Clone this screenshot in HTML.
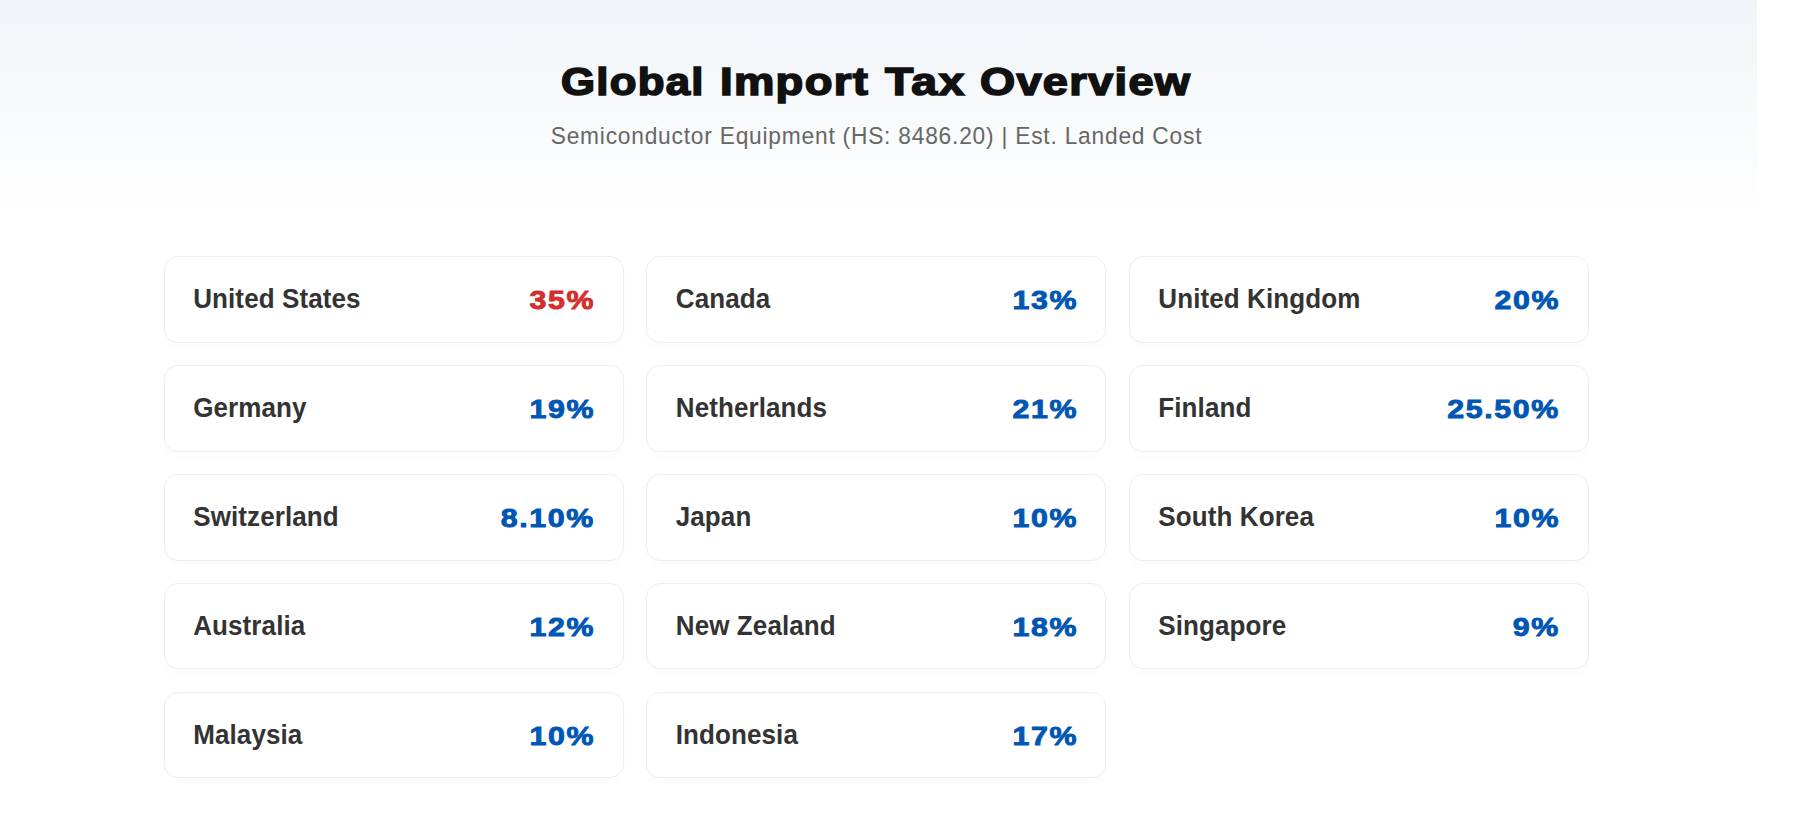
<!DOCTYPE html>
<html lang="en">
<head>
<meta charset="utf-8">
<title>Global Import Tax Overview</title>
<style>
  html, body { margin: 0; padding: 0; background: #ffffff; }
  body {
    width: 1813px; height: 838px; overflow: hidden; position: relative;
    font-family: "Liberation Sans", Arial, sans-serif;
  }
  .hero {
    position: absolute; left: 0; top: 0; width: 1757px; height: 216px;
    background: linear-gradient(to bottom, #f0f4f8 0%, #ffffff 100%);
  }
  header { position: absolute; left: 0; top: 0; width: 1753px; }
  h1 {
    position: absolute; left: 0; top: 58.7px; width: 1753px; height: 46px; margin: 0;
    white-space: nowrap;
    font-family: "Liberation Sans", Arial, sans-serif;
    font-weight: 700; font-size: 38.5px; line-height: 46px; color: #111111;
  }
  /* heavy "black" weight approximation: bold + stroke + horizontal stretch, fitted per word */
  h1 span {
    position: absolute; top: 0; display: inline-block;
    -webkit-text-stroke: 1.6px #111111;
    letter-spacing: 1.1px;
    transform-origin: left center;
  }
  h1 .w1 { left: 561px;   transform: scaleX(1.1371); }
  h1 .w2 { left: 719.5px; transform: scaleX(1.18); }
  h1 .w3 { left: 885px;   transform: scaleX(1.2059); }
  h1 .w4 { left: 980px;   transform: scaleX(1.1733); }
  .sub {
    position: absolute; left: 0; top: 120.6px; width: 1753px; margin: 0;
    text-align: center; white-space: nowrap;
    transform: scaleY(1.06); transform-origin: 50% 22.9px;
    font-size: 22.75px; line-height: 30px; letter-spacing: 0.78px; color: #666666; font-weight: 400;
  }
  .grid {
    position: absolute; left: 163.8px; top: 256px; width: 1425.2px;
    display: grid; grid-template-columns: repeat(3, 1fr);
    grid-auto-rows: 87px; align-items: start;
    column-gap: 22.5px; row-gap: 22px;
  }
  .card {
    box-sizing: border-box; height: 87px;
    background: #ffffff; border: 1px solid #eeeeee; border-radius: 14px;
    box-shadow: 0 5px 6px rgba(0,0,0,0.015);
    display: flex; align-items: center; justify-content: space-between;
    padding: 0 29px 0 28.4px;
  }
  /* lower rows land on a fractional pixel and render 1px shorter */
  .card.s { height: 86px; padding-top: 1px; }
  .name {
    font-weight: 700; font-size: 26px; letter-spacing: 0.1px; color: #333333; white-space: nowrap;
    display: inline-block; transform: scaleY(1.055); transform-origin: 0 24px;
  }
  .rate {
    font-weight: 700; font-size: 26.4px; color: #0056b3; white-space: nowrap;
    display: inline-block; position: relative; top: 0.6px;
    -webkit-text-stroke: 0.9px currentColor;
    letter-spacing: 1.4px; margin-right: -1.4px;
    transform: scaleX(1.15); transform-origin: right center;
  }
  .rate.hi { color: #d32f2f; }
</style>
</head>
<body>
  <div class="hero"></div>
  <header>
    <h1><span class="w1">Global</span> <span class="w2">Import</span> <span class="w3">Tax</span> <span class="w4">Overview</span></h1>
    <p class="sub">Semiconductor Equipment (HS: 8486.20) | Est. Landed Cost</p>
  </header>
  <main class="grid">
    <div class="card"><span class="name">United States</span><span class="rate hi">35%</span></div>
    <div class="card"><span class="name">Canada</span><span class="rate">13%</span></div>
    <div class="card"><span class="name">United Kingdom</span><span class="rate">20%</span></div>
    <div class="card"><span class="name">Germany</span><span class="rate">19%</span></div>
    <div class="card"><span class="name">Netherlands</span><span class="rate">21%</span></div>
    <div class="card"><span class="name">Finland</span><span class="rate">25.50%</span></div>
    <div class="card"><span class="name">Switzerland</span><span class="rate">8.10%</span></div>
    <div class="card"><span class="name">Japan</span><span class="rate">10%</span></div>
    <div class="card"><span class="name">South Korea</span><span class="rate">10%</span></div>
    <div class="card s"><span class="name">Australia</span><span class="rate">12%</span></div>
    <div class="card s"><span class="name">New Zealand</span><span class="rate">18%</span></div>
    <div class="card s"><span class="name">Singapore</span><span class="rate">9%</span></div>
    <div class="card s"><span class="name">Malaysia</span><span class="rate">10%</span></div>
    <div class="card s"><span class="name">Indonesia</span><span class="rate">17%</span></div>
  </main>
</body>
</html>
